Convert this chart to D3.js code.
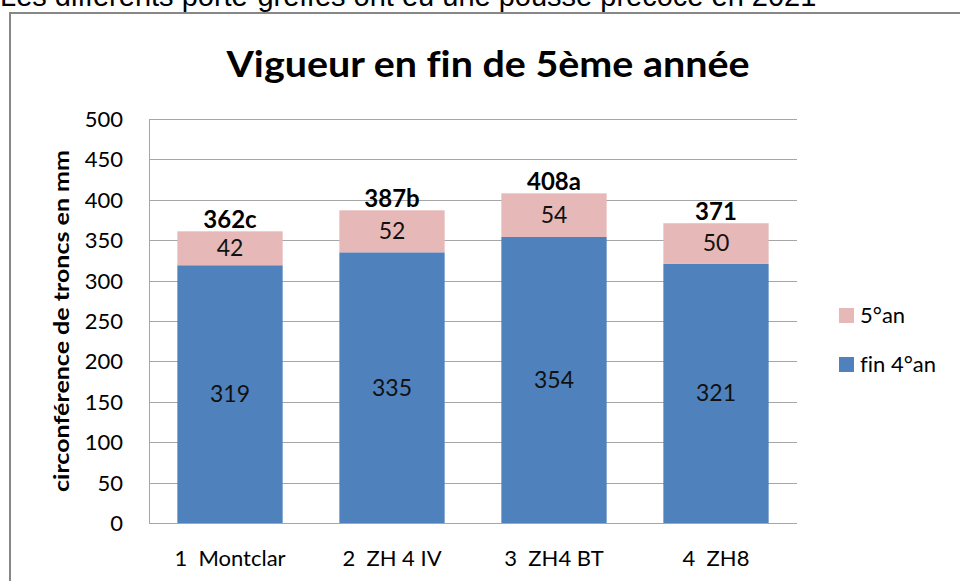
<!DOCTYPE html>
<html>
<head>
<meta charset="utf-8">
<script src="https://cdn.jsdelivr.net/npm/d3@7"></script>
<style>
  body { margin: 0; background: #fff; overflow: hidden; }
  text { font-family: Lato, "Open Sans", sans-serif; font-variant-ligatures: none; }
</style>
</head>
<body>
<div id="chart"></div>
<script>
var width = 960
var height = 581

var categories = ['1  Montclar', '2  ZH 4 IV', '3  ZH4 BT', '4  ZH8']
var fin4an = [319, 335, 354, 321]
var an5 = [42, 52, 54, 50]
var totalLabels = ['362c', '387b', '408a', '371']
var yTicks = [0, 50, 100, 150, 200, 250, 300, 350, 400, 450, 500]

var svg = d3.select('#chart')
  .append('svg')
  .attr('width', width)
  .attr('height', height)

// texte du document, coupé en haut
svg.append('text')
  .attr('x', 0)
  .attr('y', 6)
  .style('font-family', '"Liberation Sans", Arial, sans-serif')
  .style('font-size', '29px')
  .attr('fill', '#000')
  .text('Les différents porte-greffes ont eu une pousse précoce en 2021')

// cadre du graphique
svg.append('rect')
  .attr('x', 10)
  .attr('y', 13)
  .attr('width', 980)
  .attr('height', 600)
  .attr('fill', '#fff')
  .attr('stroke', '#878787')
  .attr('stroke-width', 2)

svg.append('text')
  .attr('x', 488)
  .attr('y', 77)
  .attr('text-anchor', 'middle')
  .style('font-size', '37px')
  .style('font-weight', 'bold')
  .attr('textLength', 523)
  .attr('lengthAdjust', 'spacingAndGlyphs')
  .text('Vigueur en fin de 5ème année')

var plotLeft = 149, plotRight = 797, plotTop = 119, plotBottom = 523

var x = d3.scaleBand()
  .domain(categories)
  .range([plotLeft, plotRight])
  .paddingInner(0.35)
  .paddingOuter(0.175)

var y = d3.scaleLinear()
  .domain([0, 500])
  .range([plotBottom, plotTop])

// grille
svg.append('g')
  .selectAll('line')
  .data(yTicks)
  .enter().append('line')
    .attr('x1', plotLeft)
    .attr('x2', plotRight)
    .attr('y1', function(d) { return Math.round(y(d)) + 0.5 })
    .attr('y2', function(d) { return Math.round(y(d)) + 0.5 })
    .attr('stroke', '#a6a6a6')
    .attr('stroke-width', 1)

svg.append('line')
  .attr('x1', plotLeft + 0.5)
  .attr('x2', plotLeft + 0.5)
  .attr('y1', plotTop)
  .attr('y2', plotBottom)
  .attr('stroke', '#a6a6a6')

svg.append('g')
  .selectAll('text')
  .data(yTicks)
  .enter().append('text')
    .attr('x', 123)
    .attr('y', function(d) { return y(d) + 8 })
    .attr('text-anchor', 'end')
    .style('font-size', '22px')
    .attr('fill', '#000')
    .text(function(d) { return d })

svg.append('text')
  .attr('transform', 'translate(69,321) rotate(-90)')
  .attr('text-anchor', 'middle')
  .style('font-size', '21px')
  .style('font-weight', 'bold')
  .attr('textLength', 342)
  .attr('lengthAdjust', 'spacingAndGlyphs')
  .text('circonférence de troncs en mm')

// barres empilées
var stacked = d3.stack().keys(['fin4an', 'an5'])(categories.map(function(c, i) {
  return { cat: c, fin4an: fin4an[i], an5: an5[i] }
}))
var colors = { fin4an: '#4f81bd', an5: '#e6b9b8' }

stacked.forEach(function(layer) {
  var g = svg.append('g')
  g.selectAll('rect')
    .data(layer)
    .enter().append('rect')
      .attr('x', function(d) { return x(d.data.cat) })
      .attr('width', x.bandwidth())
      .attr('y', function(d) { return y(d[1]) })
      .attr('height', function(d) { return y(d[0]) - y(d[1]) })
      .attr('fill', colors[layer.key])
  g.selectAll('text')
    .data(layer)
    .enter().append('text')
      .attr('x', function(d) { return x(d.data.cat) + x.bandwidth() / 2 })
      .attr('y', function(d) { return (y(d[0]) + y(d[1])) / 2 + 8 })
      .attr('text-anchor', 'middle')
      .style('font-size', '23px')
      .attr('fill', '#111')
      .text(function(d) { return d.data[layer.key] })
})

svg.append('g')
  .selectAll('text')
  .data(categories)
  .enter().append('text')
    .attr('x', function(d) { return x(d) + x.bandwidth() / 2 })
    .attr('y', function(d, i) { return y(fin4an[i] + an5[i]) - 3 })
    .attr('text-anchor', 'middle')
    .style('font-size', '24px')
    .style('font-weight', 'bold')
    .text(function(d, i) { return totalLabels[i] })

svg.append('g')
  .selectAll('text')
  .data(categories)
  .enter().append('text')
    .attr('x', function(d) { return x(d) + x.bandwidth() / 2 })
    .attr('y', 566)
    .attr('text-anchor', 'middle')
    .style('font-size', '22px')
    .style('white-space', 'pre')
    .attr('xml:space', 'preserve')
    .text(function(d) { return d })

// légende
var legend = [
  { label: '5°an', color: colors.an5, y: 308 },
  { label: 'fin 4°an', color: colors.fin4an, y: 357 }
]
legend.forEach(function(l) {
  svg.append('rect')
    .attr('x', 839)
    .attr('y', l.y)
    .attr('width', 15)
    .attr('height', 15)
    .attr('fill', l.color)
  svg.append('text')
    .attr('x', 860)
    .attr('y', l.y + 15)
    .style('font-size', '22px')
    .text(l.label)
})
</script>
</body>
</html>
